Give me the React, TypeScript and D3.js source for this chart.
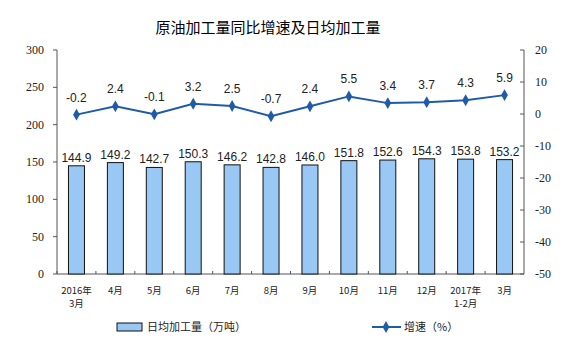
import React from "react";
import * as d3 from "d3";

const categories = ["2016年\n3月", "4月", "5月", "6月", "7月", "8月", "9月", "10月", "11月", "12月", "2017年\n1-2月", "3月"];
const dailyOutput = [144.9, 149.2, 142.7, 150.3, 146.2, 142.8, 146.0, 151.8, 152.6, 154.3, 153.8, 153.2];
const growth = [-0.2, 2.4, -0.1, 3.2, 2.5, -0.7, 2.4, 5.5, 3.4, 3.7, 4.3, 5.9];
const leftTicks = [0, 50, 100, 150, 200, 250, 300];
const rightTicks = [20, 10, 0, -10, -20, -30, -40, -50];

const W = 568, H = 354;
const M = { left: 57, right: 524, top: 50, bottom: 274 };

export default function App() {
  const x = d3.scaleBand<string>().domain(categories).range([M.left, M.right]).paddingInner(0).paddingOuter(0);
  const yL = d3.scaleLinear().domain([0, 300]).range([M.bottom, M.top]);
  const yR = d3.scaleLinear().domain([-50, 20]).range([M.bottom, M.top]);
  const bw = 16;
  const cx = (c: string) => (x(c) as number) + x.bandwidth() / 2;
  const line = d3.line<number>().x((_, i) => cx(categories[i])).y((d) => yR(d));
  const serif = "'Liberation Serif', 'Times New Roman', serif";
  const sans = "'Liberation Sans', Arial, sans-serif";
  const cjk = "'Noto Sans CJK SC', sans-serif";
  const lineColor = "#1f5ba6";
  const barColor = "#99c8f5";
  const diamond = d3.symbol().type(d3.symbolDiamond).size(40)() as string;
  return (
    <svg width={W} height={H} style={{ position: "absolute", left: 0, top: 0, background: "#fff" }}>
      <text x={268} y={33} textAnchor="middle" fontFamily={cjk} fontSize={15} fill="#000">原油加工量同比增速及日均加工量</text>
      {/* axes */}
      <line x1={M.left} x2={M.left} y1={M.top} y2={M.bottom} stroke="#555" />
      <line x1={M.right} x2={M.right} y1={M.top} y2={M.bottom} stroke="#555" />
      <line x1={M.left} x2={M.right} y1={M.bottom} y2={M.bottom} stroke="#555" />
      {leftTicks.map((t) => (
        <g key={"l" + t}>
          <line x1={M.left - 4} x2={M.left} y1={yL(t)} y2={yL(t)} stroke="#555" />
          <text x={M.left - 13} y={yL(t) + 4} textAnchor="end" fontFamily={serif} fontSize={12} fill="#222">{t}</text>
        </g>
      ))}
      {rightTicks.map((t) => (
        <g key={"r" + t}>
          <line x1={M.right - 4} x2={M.right} y1={yR(t)} y2={yR(t)} stroke="#555" />
          <text x={M.right + 11} y={yR(t) + 4} textAnchor="start" fontFamily={serif} fontSize={12} fill="#222">{t}</text>
        </g>
      ))}
      {categories.map((c, i) => (
        <line key={"bt" + i} x1={x(c) as number} x2={x(c) as number} y1={M.bottom} y2={M.bottom - 3} stroke="#555" />
      ))}
      {/* bars */}
      {dailyOutput.map((v, i) => (
        <g key={"b" + i}>
          <rect x={cx(categories[i]) - bw / 2} y={yL(v)} width={bw} height={M.bottom - yL(v)} fill={barColor} stroke="#111" strokeWidth={1} />
          <text x={cx(categories[i])} y={yL(v) - 4} textAnchor="middle" fontFamily={sans} fontSize={12} fill="#222">{v.toFixed(1)}</text>
        </g>
      ))}
      {/* line */}
      <path d={line(growth) as string} fill="none" stroke={lineColor} strokeWidth={2} />
      {growth.map((v, i) => (
        <g key={"p" + i}>
          <path d={diamond} transform={`translate(${cx(categories[i])},${yR(v)})`} fill={lineColor} />
          <text x={cx(categories[i])} y={yR(v) - 13} textAnchor="middle" fontFamily={sans} fontSize={12} fill="#222">{v.toFixed(1)}</text>
        </g>
      ))}
      {/* category labels */}
      {categories.map((c, i) => (
        <text key={"c" + i} x={cx(c)} y={294} textAnchor="middle" fontFamily={cjk} fontSize={9.5} fill="#222">
          {c.split("\n").map((s, j) => (
            <tspan key={j} x={cx(c)} dy={j === 0 ? 0 : 13}>{s}</tspan>
          ))}
        </text>
      ))}
      {/* legend */}
      <rect x={117} y={323} width={25} height={8} fill={barColor} stroke="#111" />
      <text x={147} y={331} fontFamily={cjk} fontSize={11} fill="#222">日均加工量（万吨）</text>
      <line x1={372} x2={401} y1={327} y2={327} stroke={lineColor} strokeWidth={2} />
      <path d={diamond} transform="translate(386,327)" fill={lineColor} />
      <text x={404} y={331} fontFamily={cjk} fontSize={11} fill="#222">增速（%）</text>
    </svg>
  );
}
